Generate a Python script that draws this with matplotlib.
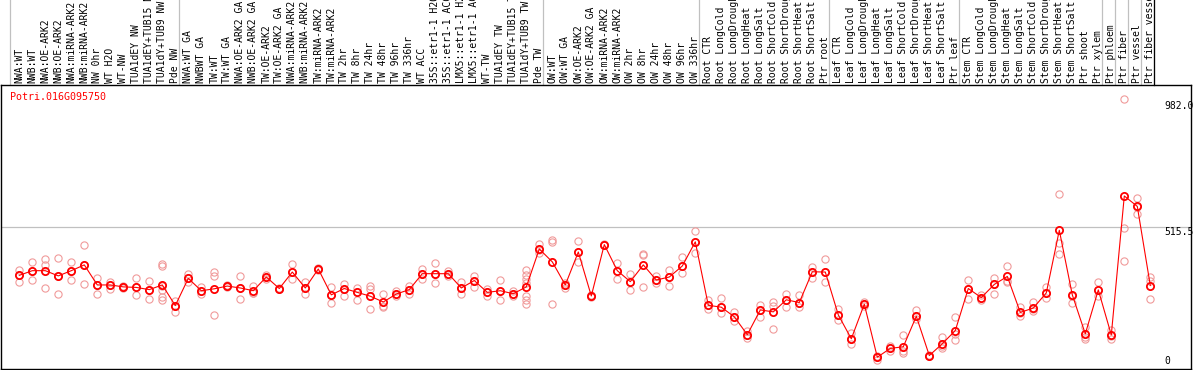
import numpy as np
import matplotlib
matplotlib.use("Agg")
import matplotlib.pyplot as plt
from matplotlib.transforms import blended_transform_factory
from matplotlib.lines import Line2D

gene = "Potri.016G095750"

labels = [
    "NWA:WT", "NWB:WT", "NWA:OE-ARK2", "NWB:OE-ARK2", "NWA:miRNA-ARK2", "NWB:miRNA-ARK2",
    "NW 0hr", "WT H2O", "WT-NW", "TUA1dEY NW", "TUA1dEY+TUB15 NW", "TUA1dY+TUB9 NW", "Pde NW",
    "NWA:WT GA", "NWBWT GA", "TW:WT", "TW:WT GA", "NWA:OE-ARK2 GA", "NWB:OE-ARK2 GA",
    "TW:OE-ARK2", "TW:OE-ARK2 GA", "NWA:miRNA-ARK2 GA", "NWB:miRNA-ARK2 GA", "TW:miRNA-ARK2",
    "TW:miRNA-ARK2", "TW 2hr", "TW 8hr", "TW 24hr", "TW 48hr", "TW 96hr", "TW 336hr", "WT ACC",
    "35S::etr1-1 H2O", "35S::etr1-1 ACC", "LMX5::etr1-1 H2O", "LMX5::etr1-1 ACC", "WT-TW",
    "TUA1dEY TW", "TUA1dEY+TUB15 TW", "TUA1dY+TUB9 TW", "Pde TW",
    "OW:WT", "OW:WT GA", "OW:OE-ARK2", "OW:OE-ARK2 GA", "OW:miRNA-ARK2", "OW:miRNA-ARK2",
    "OW 2hr", "OW 8hr", "OW 24hr", "OW 48hr", "OW 96hr", "OW 336hr",
    "Root CTR", "Root LongCold", "Root LongDrought", "Root LongHeat", "Root LongSalt",
    "Root ShortCold", "Root ShortDrought", "Root ShortHeat", "Root ShortSalt", "Ptr root",
    "Leaf CTR", "Leaf LongCold", "Leaf LongDrought", "Leaf LongHeat", "Leaf LongSalt",
    "Leaf ShortCold", "Leaf ShortDrought", "Leaf ShortHeat", "Leaf ShortSalt", "Ptr leaf",
    "Stem CTR", "Stem LongCold", "Stem LongDrought", "Stem LongHeat", "Stem LongSalt",
    "Stem ShortCold", "Stem ShortDrought", "Stem ShortHeat", "Stem ShortSalt", "Ptr shoot",
    "Ptr xylem", "Ptr phloem", "Ptr fiber", "Ptr vessel", "Ptr fiber vessel",
]

# group boundaries (index of first sample in each new group)
group_starts = [0, 13, 41, 53, 63, 73, 84, 85, 86, 87, 88]

means = [
    341, 358, 358, 339, 358, 379, 306, 306, 299, 297, 289, 306, 231,
    330, 285, 292, 302, 295, 285, 335, 293, 353, 295, 364, 270, 293, 279, 265,
    244, 273, 289, 347, 347, 347, 295, 322, 279, 285, 274, 299, 437,
    390, 306, 426, 266, 453, 358, 318, 379, 324, 335, 375, 463,
    232, 225, 190, 125, 215, 208, 252, 242, 354, 353,
    197, 110, 236, 43, 75, 81, 192, 49, 92, 140,
    293, 260, 308, 337, 206, 222, 277, 505, 270, 128, 288,
    124, 630, 592, 304,
]

reps = [
    [359, 317, 341], [391, 324, 358], [402, 377, 295], [405, 274, 337], [391, 324, 358],
    [451, 310, 379], [330, 274, 306], [317, 290, 306], [296, 299, 302], [332, 270, 297],
    [322, 255, 289], [382, 374, 304, 286, 261, 253], [249, 206, 231],
    [346, 330, 316], [297, 274, 285], [352, 337, 197], [298, 302, 306], [340, 255, 295],
    [301, 277, 278], [344, 335, 326], [290, 293, 296], [382, 329, 353], [317, 273, 295],
    [368, 364, 360], [299, 239, 270], [310, 265, 293], [295, 253, 279], [302, 290, 220],
    [274, 226, 231], [283, 267, 273], [304, 273, 289], [365, 329, 347], [386, 313, 347],
    [358, 340, 347], [317, 274, 295], [337, 299, 322], [292, 267, 279], [325, 253, 285],
    [285, 267, 274], [362, 344, 328, 313, 267, 253, 237], [455, 422, 435],
    [471, 461, 238], [313, 295, 306], [466, 390, 426], [261, 271, 266], [450, 453, 456],
    [386, 328, 358], [346, 288, 318], [420, 415, 297], [340, 313, 324], [359, 302, 335],
    [408, 350, 375], [503, 421, 463],
    [252, 219, 232], [259, 204, 225], [206, 174, 190], [140, 113, 125], [232, 188, 215],
    [243, 231, 147], [274, 226, 252], [270, 224, 242], [371, 332, 354], [401, 317, 353],
    [217, 180, 197], [132, 92, 110], [243, 231, 236], [31, 49, 43], [65, 75, 85],
    [124, 59, 64], [214, 182, 192], [46, 49, 52], [116, 78, 82], [190, 104, 129],
    [325, 256, 293], [271, 253, 260], [332, 273, 308], [376, 319, 318], [226, 194, 205],
    [243, 210, 220], [299, 259, 277], [637, 459, 417], [310, 241, 267], [153, 110, 118],
    [318, 265, 288],
    [141, 110, 119], [982, 513, 392], [622, 564, 590], [334, 319, 255],
]

y_marks = [982.0, 515.5, 0]

W, H = 1194, 370
fig = plt.figure(figsize=(W / 100, H / 100), dpi=100)
ax = fig.add_axes([1 / W, 1 / H, 1190 / W, 284 / H])

x = np.arange(len(labels))
ax.set_xlim((1 - 19.3) / 13, (1191 - 19.3) / 13)
ax.set_ylim(0, 1034)
ax.set_xticks([])
ax.set_yticks([])
for s in ax.spines.values():
    s.set_color("black")
    s.set_linewidth(1.0)

# grid line at mid value
ax.axhline(515.5, color="#c0c0c0", lw=0.9, zorder=1)

# group separators, running through the header too
tr = blended_transform_factory(ax.transData, fig.transFigure)
head = (H - 85) / H
for k in group_starts:
    fig.add_artist(Line2D([k - 0.68, k - 0.68], [0, 1], transform=tr,
                          color="#c0c0c0", lw=0.9, zorder=0))
# the last one is black in the header
fig.add_artist(Line2D([group_starts[-1] - 0.68] * 2, [head, 1], transform=tr,
                      color="black", lw=0.9, zorder=1))

# replicates
for i, r in enumerate(reps):
    ax.plot([i] * len(r), r, linestyle="none", marker="o", ms=5.2, mfc="none",
            mec="#f09a9a", mew=0.8, zorder=2, clip_on=False)

# means
ax.plot(x, means, color="red", lw=0.8, zorder=3)
ax.plot(x, means, linestyle="none", marker="o", ms=5.2, mfc="none",
        mec="red", mew=1.3, zorder=4)

# sample labels in header
ty = (H - 83) / H
for i, lab in enumerate(labels):
    ax.text(i, ty, lab, transform=tr, rotation=90, ha="center", va="bottom",
            fontsize=7, family="DejaVu Sans Mono", color="black")

fig.text(10 / W, (H - 97) / H, gene, color="red", fontsize=7.2,
         family="DejaVu Sans Mono", ha="left", va="center")

# right value labels
xr = (1164 - 19.3) / 13
offs = [-7, -4.5, 8]
for v, o in zip(y_marks, offs):
    ax.annotate(f"{v:.1f}" if v else "0", xy=(xr, v), xytext=(0, o),
                textcoords="offset pixels", ha="left", va="center",
                fontsize=7, family="DejaVu Sans Mono", annotation_clip=False)

fig.savefig("out.png", dpi=100)
